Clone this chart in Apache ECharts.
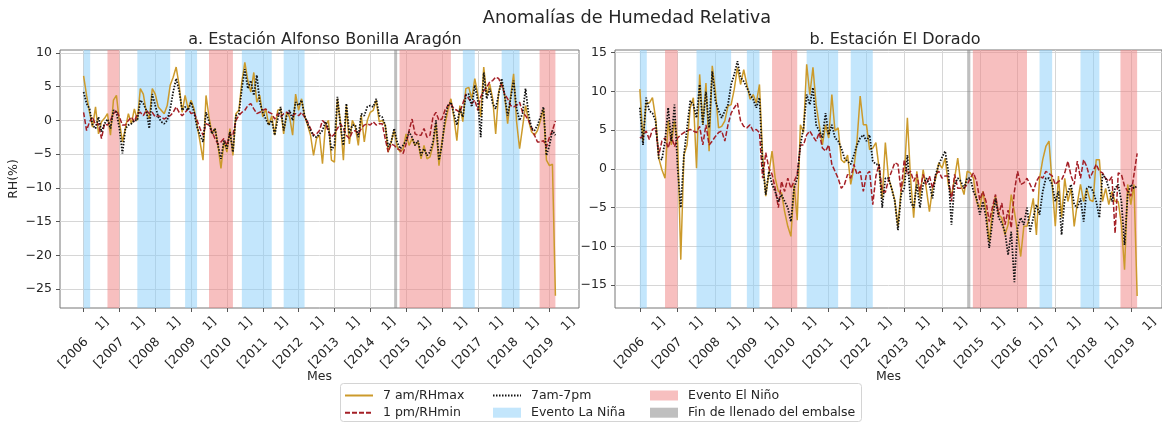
<!DOCTYPE html>
<html>
<head>
<meta charset="utf-8">
<script src="https://cdn.jsdelivr.net/npm/echarts@6/dist/echarts.min.js"></script>
<style>
  html, body { margin: 0; padding: 0; background: #ffffff; }
  #chart { width: 1162px; height: 423px; }
</style>
</head>
<body>
<div id="chart"></div>
<script>
// Month index: 0 = January 2006, one step per month (last = March 2019)
const years = [2006, 2007, 2008, 2009, 2010, 2011, 2012, 2013, 2014, 2015, 2016, 2017, 2018, 2019];
const yearTicks = years.map((y, i) => i * 12);
const yTicksA = [-25, -20, -15, -10, -5, 0, 5, 10];
const yTicksB = [-15, -10, -5, 0, 5, 10, 15];

// a. Estación Alfonso Bonilla Aragón — monthly RH anomalies (%)
const abaRHmax = [6.6,3.7,1.2,-1,2,-2,-0.2,0.3,1,-2.2,
  3,3.7,-0.2,-3.2,-1.2,1,-0.5,1.7,0,4.7,
  3.9,1.2,0.2,4.7,3.9,2,1.5,1,2.2,5.2,
  6.4,7.9,5.2,1.2,3.7,1.7,3,1.7,-0.7,-3.2,
  -5.9,3.7,0.5,-2,-1.2,-3.7,-7.1,-3.2,-4.7,-1.2,
  -5.2,1,1.5,5.7,8.6,5.9,4.2,7.1,2.7,3.7,
  0.5,1.7,-0.7,0.7,-2.2,1.5,1.7,-2,1.2,0.5,
  -2.2,3.9,1.5,3.2,0.7,-0.7,-2.2,-5.2,-2.7,
  -2.2,-6.4,-0.7,0,-5.9,-6.2,3.2,-0.2,-5.9,2.2,
  -3.5,0,-1,-3.7,0.7,-3.2,0,1.2,1.5,3,
  -0.2,0,-0.7,-4.7,-3.2,-1.5,-3.9,-4.7,-4.2,-2,
  -3.7,-2.7,-3.7,-3.2,-5.7,-3.7,-5.7,-5.4,-3.7,-0.5,
  -6.7,-3.2,-0.7,1.5,3.2,0.5,-3,2.2,-0.2,4.7,
  4.9,3.2,6.2,3.9,0.5,7.9,3.7,5.4,3.2,-2,
  4.2,5.7,3.7,-0.5,3.5,6.9,-0.2,-4.2,-1,2.2,
  0,-1.7,-2.2,-1.5,0,1.7,-5.9,-6.7,-6.5,-26];
const abaRHmin = [1.2,-1.5,-0.2,0.5,-0.7,-0.5,-2.7,-0.5,-0.7,0,
  1,1.5,0.5,-0.7,-0.7,0,0.5,-0.2,1,1.2,
  0.7,1.5,1,1.2,0.5,0.7,0.5,0.2,0.5,0.7,
  1.2,2,1.2,0.7,1.2,1.7,1,1.2,0,-1.2,
  -2.2,-0.5,-0.7,-1.7,-2.7,-3.5,-3.2,-2.7,-3.7,-2,
  -2.2,0,0.7,1.2,1.5,2.2,2.5,1.7,1,1.2,
  1.5,1.7,1.2,1,0.2,1,0.5,1,1.2,1,
  0.7,1,0.7,1.2,0.5,-0.2,-1.2,-2.2,-2,-1.5,
  0,-0.5,-1.7,-2.5,-2,-1.2,-0.5,-1.2,-2.2,-2.7,
  -1.7,-1.5,-2,-1.2,-0.7,-0.5,-0.7,-0.2,-0.7,-0.5,
  -0.5,-2.7,-4.7,-3.5,-3.7,-4.2,-4.4,-4.9,-3.5,-1.5,
  0.2,-2,-2.2,-2.2,-1.2,-2.5,-2.2,0.5,1.2,0,
  0.2,1.5,2.2,2.5,1.7,1.5,1.2,2.5,3.9,3.2,
  2.5,3,1.5,3.5,4.4,4.9,5.7,5.9,6.4,6.2,
  5.2,3.9,3.2,2.2,2,2.2,2.7,1.2,0.7,0,
  -1,-2.2,-3.2,-3.2,-3,-3.9,-2.5,-1.5,-0.1];
const abaMean = [4.2,2.5,1.7,-0.7,-1.2,0.5,-1.7,-0.5,0.2,-1.2,
  1.5,1.2,-1.2,-4.9,-1.2,-0.7,-0.5,0,0,3,
  2.5,1.5,-1.2,3.9,2.2,0.5,-0.2,-0.5,0,1.7,
  4.2,6.2,4.4,1.5,2,1.5,2.7,1.2,-1,-2.2,
  -3.2,1.2,-0.2,-2,-1.2,-3.7,-5.7,-3,-4.2,-1.7,
  -4.7,0.7,1,4.7,7.6,4.7,5.9,3.7,6.7,2.7,
  1.2,0.2,-0.7,0,-2.2,0.2,2,-1.5,0.7,1.5,
  0,2.7,2.2,3,0.7,-0.5,-1.5,-2.3,-2.5,-2,
  -1.5,-0.2,-1.2,-4.4,-3.7,3.5,-0.7,-3.7,2.5,-2,
  -0.7,-0.7,-2.5,1,0.7,2,2.2,2,3.2,0.7,
  0.5,-0.7,-3.9,-3.2,-1.2,-3.2,-4.2,-3.7,-3,-1.7,
  -2.5,-3.7,-3,-5.2,-4.2,-5.2,-4.7,-3.2,0,-5.9,
  -3.7,0.2,2.2,2.7,1,-0.7,1.7,0.5,3.7,3.9,
  2,5.2,3,-2.5,7.1,3.2,4.7,2.5,1.7,3.9,
  6.2,3.7,0.7,3.2,5.9,1.7,0,1,4.7,1,
  -1.2,-1.5,-0.7,0.5,2,-5.2,-3.7,-1.5,-2.2];

// b. Estación El Dorado — monthly RH anomalies (%)
const edRHmax = [10.3,3.6,8.5,8.5,9.2,6.6,1.4,-0.1,-1.2,6.2,
  3.1,6.2,3.6,-11.7,1.8,3.1,7.9,9.2,0.1,12.2,
  5.7,11.1,2.3,13.3,10,5.3,5.5,6.2,8.1,8.3,
  10.3,13.1,10.9,12.8,10.9,9,9.6,8.5,10.9,1.8,
  -3.5,-0.5,2.3,-1.2,-2.9,-3.1,-5.5,-7.4,-8.7,-2,
  -6.6,5.7,4.7,13.5,9.6,13.1,8.3,5.7,3.1,5.7,
  4,9.6,4.9,5.3,1.2,0.8,1.8,-2,0.1,3.6,
  9.4,5.7,5.7,2.5,2.7,3.4,0.1,-3.8,3.4,
  -1.2,-2.5,-4,-7.4,-2.7,-1.2,6.6,-1.2,-6.3,-0.3,
  -3.8,-0.1,-2.5,-5.5,-2.5,-1.2,0.8,0.1,1.4,-2,
  -3.5,-1.2,1.4,-2,-3.3,-0.3,-0.5,-1.2,-4.2,-5,
  -2.9,-5.5,-9.4,-5.5,-3.5,-5.9,-6.3,-8.5,-7.2,-3.3,
  -5.5,-8.1,-11.3,-7.4,-7.4,-5.9,-3.8,-8.5,-1.2,1.2,
  2.9,3.6,-2,-7.4,-0.9,-6.3,-1.2,-4.2,-2.5,-7.4,
  -4.4,-2,-4.2,-2.5,-4,-4.2,1.2,1.2,-4.2,-2.5,
  -4.6,-2.9,-4.2,-4.2,-7.2,-13,-2,-4.6,-2,-16.4];
const edRHmin = [4,4.2,4.9,3.8,5.1,5.3,1.8,3.6,4,2.7,
  4.2,2.9,4,4.4,4.7,4.9,5.1,4.9,4.7,5.5,
  3.1,5.7,3.1,3.6,4.2,4.7,4.9,3.6,5.7,7.2,
  7.9,8.5,6.2,5.5,5.3,5.7,4.9,5.1,4.7,-1.2,
  2.1,0.1,-0.7,-2.5,-5,-1.6,-2.9,-1.2,-2.5,-1.6,
  -0.7,3.1,3.1,4.4,4.9,4.2,3.6,4.7,2.7,2.3,
  3.1,0.6,-0.3,-1.2,-2.5,-2,-0.7,-1.2,0.6,-0.7,
  -0.3,-2.9,-0.7,-0.3,-4.6,-0.9,0.6,-2.9,-3,
  -1.4,-0.3,0.8,0.6,-2.9,1.2,-0.7,-0.3,-1.6,-0.7,
  -2.9,-0.7,-2,-0.9,-2.5,-0.7,-0.3,-1.2,-0.9,-0.9,
  -4.2,-0.7,-2.5,-2.5,-2.5,-2,-1.2,-0.5,-1.6,-4,
  -2.9,-4.2,-6.8,-5,-3.3,-5.9,-4.4,-7.2,-5.3,-7.6,
  -2.9,-0.3,-2,-1.8,-1.2,-2,-2.9,-1.6,-0.9,-1.2,
  -0.3,-0.6,-0.9,-2,-1.6,-1.4,-0.5,1,-0.9,-2,
  1,-1.2,1.2,0.3,-1.2,-0.3,0.6,-0.3,-0.5,-1.2,
  -1.6,-1,-8.3,-0.5,-0.7,-2.2,-2.9,-3.5,-0.7,2];
const edMean = [7.9,3.1,9.2,7.5,7.2,6.2,1.4,1.2,3.6,7.9,
  3.6,8.3,0.1,-5,1.8,5.3,8.8,8.3,6.6,10.9,
  5.7,10,5.3,12.6,8.8,7.5,6.6,7.5,8.3,10.9,
  12.2,13.9,11.8,11.3,10.5,9.6,9,7.9,9.2,0.6,
  -3.3,-0.3,-2,-2.9,-4.2,-3.3,-4.2,-5,-6.8,-2.5,
  -1.2,3.1,5.3,9.6,8.3,10.5,5.7,4.9,4,7.2,
  4.4,5.7,4,3.6,2.7,1.4,1,0.6,1.8,3.1,
  4,4.4,3.6,4.4,1,0.6,0.6,-5,-1.2,
  -1.2,-2.5,-4.2,-7.9,-3.3,-2.5,1.8,-4.2,-5,-2,
  -5,-2,-1.2,-2,-3.8,-0.7,0.6,1.5,2.3,-0.3,
  -7.2,-2,-1.2,-1.6,-2.5,-1.2,-1.2,-2.9,-3.8,-5.9,
  -4.2,-6.3,-10.2,-6.8,-3.8,-6.3,-7,-8.1,-11.1,-8.1,
  -14.6,-7.6,-6.3,-7.2,-5,-8.1,-6.3,-4.6,-5.9,-2.9,
  -1.2,-1.2,-2,-4.2,-2.9,-8.5,-3.8,-3,-2,-4.6,
  -5,-3.8,-6.8,-2.5,-2.2,-2.9,-4.2,-6.3,-0.7,-1.2,
  -2.5,-4.2,-2.5,-2,-4.2,-9.8,-3.3,-2,-2.5,-2.2];

// ENSO episodes and reservoir filling, as [start, end] month indices
const ninaPeriods = [[0, 2.2], [18, 29], [34, 38], [53, 63], [67, 74], [127, 131], [140, 146]];
const ninoPeriods = [[8, 12], [42, 50], [105.8, 123], [152.7, 158]];
const fillPeriods = [[104, 105]];

const FONT = 'DejaVu Sans';
const INK = '#262626';
const GOLD = '#cc9a2b';
const DARKRED = '#a41f26';
const NINA = 'rgba(135, 206, 250, 0.5)';
const NINO = 'rgba(240, 128, 128, 0.5)';
const FILL = 'rgba(128, 128, 128, 0.5)';

const toPoints = vals => vals.map((v, i) => [i, v]);
const minusFmt = v => (v < 0 ? '\u2212' + (-v) : String(v));

function bandSeries(name, periods, color, gi) {
  return {
    name, type: 'line', xAxisIndex: gi, yAxisIndex: gi, data: [],
    symbol: 'none', color, silent: true, lineStyle: { width: 0 },
    markArea: {
      silent: true,
      itemStyle: { color, borderWidth: 0 },
      data: periods.map(p => [{ xAxis: p[0] }, { xAxis: p[1] }])
    }
  };
}

function lineSeries(name, vals, gi, color, width, type) {
  return {
    name, type: 'line', xAxisIndex: gi, yAxisIndex: gi,
    data: toPoints(vals), symbol: 'none', showSymbol: false,
    color, lineStyle: { color, width, type }, animation: false
  };
}

function xAxisFor(gi) {
  return {
    type: 'value', gridIndex: gi, min: -7.9, max: 165.9,
    axisLine: { show: false, onZero: false },
    axisTick: { show: true, length: 4, lineStyle: { color: '#555' }, customValues: yearTicks },
    axisLabel: {
      customValues: yearTicks,
      formatter: v => '[' + (2006 + Math.round(v / 12)) + '    1]',
      rotate: 45, align: 'center', verticalAlign: 'middle', margin: 35,
      fontSize: 12.5, color: INK, fontFamily: FONT
    },
    splitLine: { show: true, lineStyle: { color: '#d6d6d6', width: 1 } },
    name: 'Mes', nameLocation: 'middle', nameGap: 62, nameMoveOverlap: false,
    nameTextStyle: { fontSize: 12.5, color: INK, fontFamily: FONT }
  };
}

function yAxisFor(gi, min, max, ticks, name) {
  return {
    type: 'value', gridIndex: gi, min, max,
    axisLine: { show: false, onZero: false },
    axisTick: { show: true, length: 4, lineStyle: { color: '#555' }, customValues: ticks },
    axisLabel: { customValues: ticks, formatter: minusFmt, margin: 8, fontSize: 12.5, color: INK, fontFamily: FONT },
    splitLine: { show: true, lineStyle: { color: '#d6d6d6', width: 1 } },
    name: name || '', nameLocation: 'middle', nameGap: 40,
    nameTextStyle: { fontSize: 12.5, color: INK, fontFamily: FONT }
  };
}

const legendText = { fontSize: 12.5, color: INK, fontFamily: FONT, lineHeight: 15, padding: [0, 0, 0, 5] };
const lineKey = name => ({ name, itemStyle: { opacity: 0 } });
const boxKey = name => ({ name, icon: 'rect' });
function legendCol(left, data) {
  return {
    data, left, top: 388, orient: 'vertical', padding: 0,
    itemWidth: 28, itemHeight: 10, itemGap: 2.2,
    selectedMode: false, textStyle: legendText
  };
}

const option = {
  animation: false,
  backgroundColor: '#ffffff',
  title: [
    { text: 'Anomalías de Humedad Relativa', left: 622, top: 4, textAlign: 'center',
      textStyle: { fontSize: 17.7, fontWeight: 'normal', color: INK, fontFamily: FONT } },
    { text: 'a. Estación Alfonso Bonilla Aragón', left: 320, top: 27, textAlign: 'center',
      textStyle: { fontSize: 16, fontWeight: 'normal', color: INK, fontFamily: FONT } },
    { text: 'b. Estación El Dorado', left: 890, top: 27, textAlign: 'center',
      textStyle: { fontSize: 16, fontWeight: 'normal', color: INK, fontFamily: FONT } }
  ],
  grid: [
    { left: 60, top: 50, width: 519, height: 258, show: true, borderColor: '#777', borderWidth: 1 },
    { left: 615, top: 50, width: 549, height: 258, show: true, borderColor: '#777', borderWidth: 1 }
  ],
  xAxis: [xAxisFor(0), xAxisFor(1)],
  yAxis: [
    yAxisFor(0, -27.8, 10.43, yTicksA, 'RH(%)'),
    yAxisFor(1, -17.94, 15.35, yTicksB)
  ],
  legend: [
    legendCol(344, [lineKey('7 am/RHmax'), lineKey('1 pm/RHmin')]),
    legendCol(492, [lineKey('7am-7pm'), boxKey('Evento La Niña')]),
    legendCol(650, [boxKey('Evento El Niño'), boxKey('Fin de llenado del embalse')])
  ],
  graphic: [{
    type: 'rect', left: 340, top: 383, z: -1,
    shape: { width: 521, height: 38, r: 3 },
    style: { fill: '#ffffff', stroke: '#d4d4d4', lineWidth: 1 }
  }],
  series: [0, 1].flatMap(gi => [
    bandSeries('Evento La Niña', ninaPeriods, NINA, gi),
    bandSeries('Evento El Niño', ninoPeriods, NINO, gi),
    bandSeries('Fin de llenado del embalse', fillPeriods, FILL, gi),
    lineSeries('7 am/RHmax', gi ? edRHmax : abaRHmax, gi, GOLD, 1.5, 'solid'),
    lineSeries('1 pm/RHmin', gi ? edRHmin : abaRHmin, gi, DARKRED, 1.5, [5, 2]),
    lineSeries('7am-7pm', gi ? edMean : abaMean, gi, '#111111', 1.8, [1.5, 1.5])
  ])
};

const chart = echarts.init(document.getElementById('chart'));
chart.setOption(option);
</script>
</body>
</html>
